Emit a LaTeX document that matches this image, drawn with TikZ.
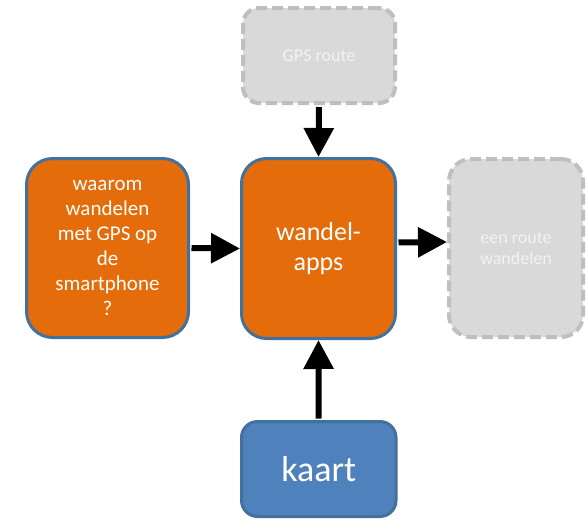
\documentclass[tikz,border=0pt]{standalone}
\usepackage{fontspec}
\setmainfont{Carlito}
\usetikzlibrary{arrows.meta}

\definecolor{boxorange}{HTML}{E46C0A}
\definecolor{boxblue}{HTML}{4F81BD}
\definecolor{rimblue}{HTML}{41719C}
\definecolor{boxgray}{HTML}{D9D9D9}
\definecolor{rimgray}{HTML}{BFBFBF}

\tikzset{
	stepbox/.style={draw=rimblue,line width=3pt,text=white,align=center,inner sep=0pt},
	todobox/.style={draw=rimgray,fill=boxgray,line width=4pt,dash pattern=on 11pt off 5pt,text=white!95!black,align=center,inner sep=0pt},
	flow/.style={line width=6pt,-{Triangle[length=29pt,width=29pt]}}
}

\begin{document}
\begin{tikzpicture}[x=1pt,y=-1pt]
		\useasboundingbox (0,0) rectangle (587,520);
		
		% Boxes
		\node[todobox,rounded corners=16pt,minimum width=152pt,minimum height=95pt,font=\fontsize{18}{22}\selectfont] (gps) at (319,55.5) {GPS route};
		\node[stepbox,fill=boxorange,rounded corners=26pt,minimum width=162pt,minimum height=179pt,font=\fontsize{21}{25}\selectfont] (waarom) at (107.5,248) {waarom\\wandelen\\met GPS op\\de\\smartphone\\?};
		\node[stepbox,fill=boxorange,rounded corners=25pt,minimum width=154pt,minimum height=180pt,font=\fontsize{26}{30}\selectfont] (apps) at (318.5,248.5) {wandel-\\apps};
		\node[todobox,rounded corners=22pt,minimum width=134pt,minimum height=178pt,font=\fontsize{18}{21}\selectfont] (route) at (516,248) {een route\\wandelen};
		\node[stepbox,fill=boxblue,rounded corners=16pt,minimum width=154.5pt,minimum height=95pt,font=\fontsize{36}{40}\selectfont] (kaart) at (318.75,469) {kaart};
		
		% Arrows
		\draw[flow,shorten <=2pt] (gps.south) -- (apps.north);
		\draw[flow,shorten <=1.5pt] (waarom.east) -- (apps.west);
		\draw[flow,shorten <=1.5pt] ([yshift=6pt]apps.east) -- ([yshift=6pt]route.west);
		\draw[flow,shorten <=1.5pt] (kaart.north) -- (apps.south);
		
\end{tikzpicture}
\end{document}
